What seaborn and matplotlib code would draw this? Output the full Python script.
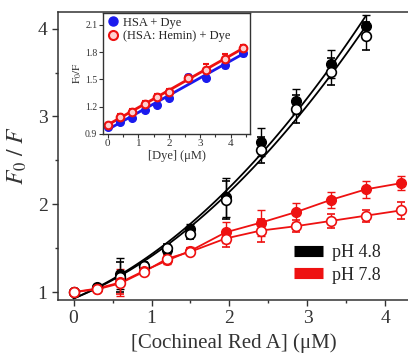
import numpy as np
import pandas as pd
import seaborn as sns
import matplotlib.pyplot as plt
from matplotlib.lines import Line2D
from matplotlib.ticker import MultipleLocator

# main plot data
conc = [0, 0.3, 0.6, 0.9, 1.2, 1.5, 1.95, 2.4, 2.85, 3.3, 3.75, 4.2]
ph48_filled = [1.0, 1.06, 1.21, 1.30, 1.48, 1.72, 2.08, 2.71, 3.17, 3.60, 4.03]
ph48_filled_err = [0.0, 0.03, 0.18, 0.04, 0.05, 0.05, 0.22, 0.16, 0.14, 0.16, 0.13]
ph48_open = [1.0, 1.05, 1.17, 1.30, 1.50, 1.66, 2.05, 2.62, 3.08, 3.51, 3.92]
ph48_open_err = [0.0, 0.03, 0.17, 0.04, 0.05, 0.05, 0.22, 0.15, 0.16, 0.15, 0.16]
ph78_filled = [1.0, 1.04, 1.11, 1.24, 1.36, 1.47, 1.68, 1.79, 1.91, 2.05, 2.17, 2.24]
ph78_filled_err = [0.0, 0.03, 0.15, 0.03, 0.04, 0.04, 0.12, 0.15, 0.11, 0.09, 0.10, 0.08]
ph78_open = [1.0, 1.03, 1.10, 1.23, 1.38, 1.46, 1.61, 1.70, 1.75, 1.81, 1.87, 1.93]
ph78_open_err = [0.0, 0.03, 0.12, 0.03, 0.04, 0.04, 0.10, 0.13, 0.07, 0.08, 0.07, 0.10]

# inset data
dye = [0, 0.4, 0.8, 1.2, 1.6, 2.0, 2.6, 3.2, 3.8, 4.4]
hsa = [0.98, 1.03, 1.08, 1.16, 1.22, 1.29, 1.53, 1.52, 1.66, 1.79]
hsa_err = [0.02, 0.02, 0.02, 0.02, 0.02, 0.02, 0.03, 0.03, 0.03, 0.03]
hsa_hemin = [1.0, 1.09, 1.14, 1.23, 1.31, 1.36, 1.52, 1.60, 1.72, 1.85]
hsa_hemin_err = [0.02, 0.03, 0.03, 0.03, 0.03, 0.03, 0.03, 0.07, 0.06, 0.03]

sns.set_style('ticks')
plt.rcParams['font.family'] = ['Liberation Serif', 'DejaVu Serif']
plt.rcParams['mathtext.fontset'] = 'stix'

RED = '#ee1111'
fig = plt.figure(figsize=(4.08, 3.61), dpi=100)
ax = fig.add_axes([0.142, 0.169, 0.86, 0.798])

n = len(ph48_filled)
# pH 4.8 : polynomial fits
sns.regplot(x=conc[:n], y=ph48_filled, order=2, ci=None, scatter=False, truncate=True,
            line_kws=dict(color='black', lw=1.3), ax=ax)
sns.regplot(x=conc[:n], y=ph48_open, order=2, ci=None, scatter=False, truncate=True,
            line_kws=dict(color='black', lw=1.3), ax=ax)
ax.errorbar(conc[:n], ph48_filled, yerr=ph48_filled_err, fmt='o', color='black',
            ms=7, capsize=3, elinewidth=1, mfc='black')
ax.errorbar(conc[:n], ph48_open, yerr=ph48_open_err, fmt='o', color='black',
            ms=7, capsize=3, elinewidth=1, mfc='white', mew=1.2)

# pH 7.8 : connected points
sns.lineplot(x=conc, y=ph78_filled, color=RED, lw=1.3, ax=ax)
sns.lineplot(x=conc, y=ph78_open, color=RED, lw=1.3, ax=ax)
ax.errorbar(conc, ph78_filled, yerr=ph78_filled_err, fmt='o', color=RED,
            ms=7, capsize=3, elinewidth=1, mfc=RED)
ax.errorbar(conc, ph78_open, yerr=ph78_open_err, fmt='o', color=RED,
            ms=7, capsize=3, elinewidth=1, mfc='white', mew=1.2)

ax.set_xlim(-0.2, 4.3)
ax.set_ylim(0.91, 4.19)
ax.xaxis.set_major_locator(MultipleLocator(1))
ax.xaxis.set_minor_locator(MultipleLocator(0.5))
ax.yaxis.set_major_locator(MultipleLocator(1))
ax.yaxis.set_minor_locator(MultipleLocator(0.5))
ax.tick_params(which='major', direction='out', length=4, width=1, labelsize=14, colors='#333333')
ax.tick_params(which='minor', direction='out', length=2.5, width=1, colors='#333333')
for s in ['left', 'bottom', 'top']:
    ax.spines[s].set_color('#333333')
    ax.spines[s].set_linewidth(1.1)
ax.spines['right'].set_visible(False)
ax.set_xlabel('[Cochineal Red A] (\u03bcM)', fontsize=15, color='#333333', labelpad=4)
ax.set_ylabel(r'$F_0\ /\ F$', fontsize=17, color='#333333', labelpad=6)

handles = [Line2D([], [], color='black', lw=8, solid_capstyle='butt'),
           Line2D([], [], color=RED, lw=8, solid_capstyle='butt')]
ax.legend(handles, ['pH 4.8', 'pH 7.8'], loc='lower right', frameon=False, fontsize=13,
          handlelength=1.6, bbox_to_anchor=(0.965, 0.0), labelspacing=0.3, handletextpad=0.5)

# inset
ins = fig.add_axes([0.252, 0.629, 0.361, 0.335])
sns.regplot(x=dye, y=hsa, ci=None, scatter=False, line_kws=dict(color='#1a1aee', lw=2), ax=ins)
sns.regplot(x=dye, y=hsa_hemin, ci=None, scatter=False, line_kws=dict(color=RED, lw=2), ax=ins)
ins.errorbar(dye, hsa, yerr=hsa_err, fmt='o', color='#1a1aee', ms=5.5, capsize=2, elinewidth=0.8)
ins.errorbar(dye, hsa_hemin, yerr=hsa_hemin_err, fmt='o', color=RED, ms=5.5, capsize=2,
             elinewidth=0.8, mfc='#ffd0d0', mew=1.5)
ins.set_xlim(-0.16, 4.63)
ins.set_ylim(0.9, 2.23)
ins.xaxis.set_major_locator(MultipleLocator(1))
ins.xaxis.set_minor_locator(MultipleLocator(0.5))
ins.set_yticks([0.9, 1.2, 1.5, 1.8, 2.1])
ins.tick_params(which='major', direction='out', length=3, width=0.8, labelsize=8, colors='#333333', pad=1)
ins.tick_params(axis='y', labelsize=7)
ins.tick_params(which='minor', direction='out', length=2, width=0.8, colors='#333333')
for s in ins.spines.values():
    s.set_color('#333333')
    s.set_linewidth(1)
ins.set_xlabel('[Dye] (\u03bcM)', fontsize=9, color='#333333', labelpad=1)
ins.set_ylabel(r'$\mathrm{F_0/F}$', fontsize=8, color='#333333', labelpad=1)
ins_handles = [Line2D([], [], ls='', marker='o', color='#1a1aee', ms=6.5),
               Line2D([], [], ls='', marker='o', color=RED, mfc='#ffd0d0', mew=1.5, ms=6.5)]
ins.legend(ins_handles, ['HSA + Dye', '(HSA: Hemin) + Dye'], loc='upper left', frameon=False,
           fontsize=9, handletextpad=0.3, borderaxespad=0.1, labelspacing=0.1,
           borderpad=0.2, handlelength=1)

fig.savefig('out.png', dpi=100)
